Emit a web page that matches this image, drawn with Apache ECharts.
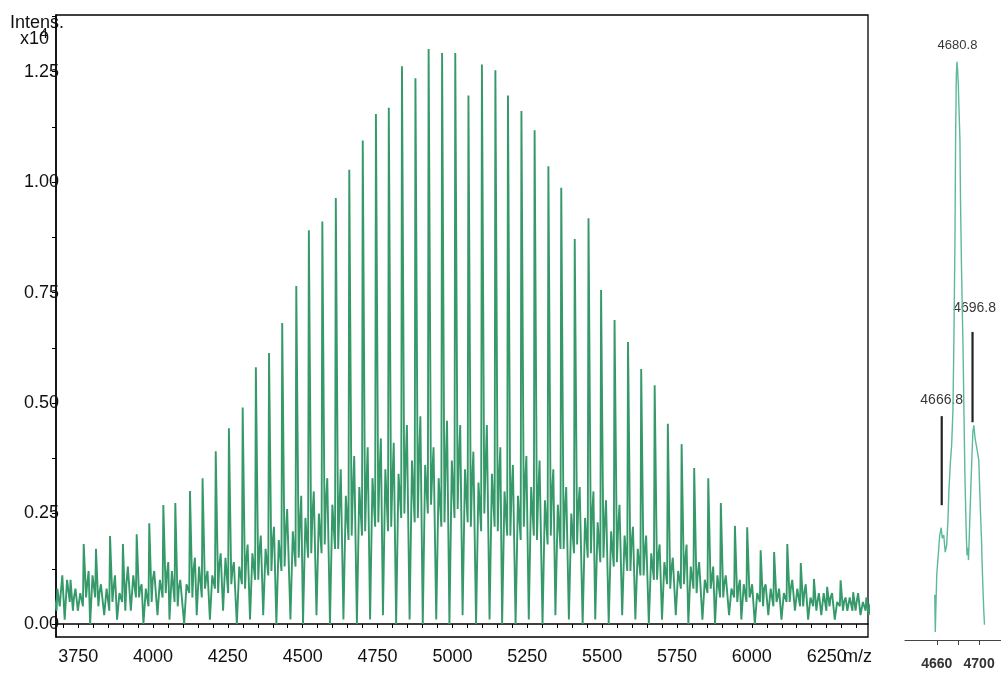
<!DOCTYPE html>
<html><head><meta charset="utf-8">
<script src="https://cdn.jsdelivr.net/npm/echarts@6/dist/echarts.min.js"></script>
<style>html,body{margin:0;padding:0;background:#fff}#c{width:1001px;height:673px}</style>
</head><body><div id="c"></div>
<script>
// ---------- main spectrum: one entry per 44-Da oligomer peak ----------
const mainMz = [3683,3727,3771,3812,3859,3902,3948,3990,4037,4077,4126,4168,4212,4256,4302,4346,4390,4434,4481,4523,4568,4613,4658,4703,4747,4790,4834,4879,4923,4968,5012,5056,5101,5146,5188,5233,5277,5323,5366,5411,5457,5499,5544,5589,5633,5678,5722,5768,5810,5857,5899,5946,5987,6032,6077,6121,6166,6210,6254,6299,6341,6385];
const mainInt = [0.08,0.10,0.181,0.170,0.199,0.181,0.203,0.228,0.269,0.274,0.301,0.330,0.391,0.443,0.490,0.581,0.613,0.681,0.765,0.891,0.911,0.964,1.028,1.094,1.154,1.168,1.262,1.235,1.301,1.292,1.292,1.196,1.266,1.253,1.196,1.161,1.117,1.036,0.987,0.871,0.918,0.756,0.688,0.638,0.577,0.540,0.453,0.407,0.353,0.330,0.274,0.222,0.219,0.167,0.163,0.181,0.138,0.102,0.084,0.099,0.072,0.06];
// valley before each peak
const valleyInt = [0.02,0.01,0.03,0.00,0.02,0.01,0.03,0.00,0.02,0.01,0.00,0.02,0.01,0.03,0.00,0.01,0.02,0.00,0.01,0.00,0.02,0.00,0.01,0.00,0.01,0.02,0.00,0.01,0.00,0.01,0.00,0.02,0.00,0.01,0.00,0.00,0.01,0.00,0.02,0.01,0.00,0.01,0.00,0.02,0.01,0.00,0.01,0.02,0.00,0.01,0.00,0.02,0.01,0.00,0.02,0.01,0.03,0.01,0.02,0.01,0.03,0.02];
// satellite on the low-mass side (-14)
const satLInt = [0.06,0.10,0.07,0.11,0.08,0.07,0.11,0.08,0.10,0.12,0.09,0.13,0.11,0.15,0.13,0.16,0.17,0.19,0.21,0.24,0.25,0.27,0.29,0.31,0.33,0.35,0.34,0.37,0.36,0.33,0.37,0.35,0.32,0.34,0.30,0.29,0.31,0.28,0.27,0.25,0.24,0.23,0.21,0.20,0.17,0.16,0.14,0.12,0.13,0.10,0.11,0.08,0.09,0.07,0.08,0.07,0.08,0.06,0.07,0.05,0.06,0.05];
// dip just before the main peak
const dipLInt = [0.03,0.05,0.04,0.06,0.03,0.05,0.06,0.04,0.06,0.05,0.07,0.06,0.08,0.07,0.09,0.10,0.11,0.12,0.13,0.15,0.16,0.17,0.19,0.20,0.22,0.21,0.24,0.23,0.25,0.22,0.24,0.23,0.21,0.22,0.20,0.19,0.20,0.18,0.17,0.16,0.15,0.14,0.13,0.12,0.11,0.10,0.09,0.08,0.08,0.07,0.06,0.06,0.05,0.05,0.04,0.05,0.04,0.04,0.03,0.04,0.03,0.03];
// dip just after the main peak
const dipRInt = [0.04,0.03,0.06,0.04,0.05,0.03,0.06,0.05,0.07,0.04,0.06,0.08,0.07,0.09,0.08,0.10,0.12,0.13,0.15,0.16,0.18,0.17,0.20,0.21,0.23,0.22,0.25,0.24,0.27,0.23,0.26,0.22,0.25,0.21,0.20,0.22,0.19,0.20,0.17,0.18,0.16,0.15,0.14,0.12,0.11,0.10,0.08,0.09,0.07,0.08,0.06,0.05,0.06,0.04,0.05,0.05,0.04,0.03,0.04,0.03,0.03,0.02];
// small bump between the post-peak dip and the high-mass satellite
const midRInt = [0.07,0.06,0.09,0.07,0.08,0.09,0.08,0.10,0.11,0.08,0.12,0.10,0.13,0.12,0.14,0.16,0.18,0.20,0.22,0.24,0.27,0.25,0.29,0.30,0.33,0.31,0.35,0.36,0.33,0.35,0.36,0.31,0.34,0.32,0.29,0.31,0.28,0.29,0.25,0.26,0.24,0.22,0.21,0.18,0.16,0.15,0.12,0.14,0.11,0.10,0.09,0.08,0.07,0.08,0.06,0.08,0.07,0.05,0.06,0.05,0.05,0.04];
// satellite on the high-mass side (+16)
const satRInt = [0.11,0.08,0.12,0.09,0.11,0.13,0.09,0.12,0.14,0.10,0.15,0.12,0.16,0.14,0.18,0.20,0.22,0.26,0.29,0.30,0.33,0.35,0.38,0.40,0.42,0.41,0.45,0.47,0.40,0.46,0.45,0.39,0.45,0.40,0.36,0.38,0.37,0.35,0.31,0.31,0.30,0.28,0.27,0.22,0.20,0.18,0.15,0.18,0.14,0.13,0.11,0.10,0.09,0.09,0.08,0.10,0.09,0.07,0.07,0.06,0.07,0.05];
const xLabels = [3750,4000,4250,4500,4750,5000,5250,5500,5750,6000,6250];
const yLabels = [0,0.25,0.5,0.75,1.0,1.25];

// ---------- inset (zoom on 4680.8) ----------
const insetMz = [4658.1,4658.6,4660.0,4661.4,4662.8,4664.2,4665.2,4666.6,4668.0,4669.4,4670.6,4671.5,4672.9,4674.1,4675.3,4676.2,4677.2,4677.8,4678.5,4679.1,4679.7,4680.4,4680.9,4681.9,4682.5,4683.5,4684.7,4685.6,4686.6,4687.9,4688.6,4689.4,4690.0,4691.0,4692.6,4694.1,4695.0,4696.2,4697.3,4698.5,4699.7,4701.3,4702.3,4702.9,4703.7,4704.4,4705.1];
const insetInt = [7.4,1.3,10.7,13.9,17.2,18.4,16.7,17.2,14.4,15.6,19.7,24.6,29.2,32.0,37.7,49.2,65.6,82.0,92.6,94.8,93.4,91.0,87.7,82.0,71.3,59.8,49.2,38.5,27.0,17.2,13.9,15.1,13.1,18.5,27.0,34.1,35.2,33.1,32.0,30.8,29.5,21.0,16.4,12.3,8.2,4.9,2.5];
const insetPeakLabels = ['4680.8','4696.8','4666.8'];
const insetLabelPos = [[4679.6,97.4],[4695.7,54.4],[4664.7,39.3]];
const insetBars = [[[4664.7,36.7],[4664.7,22.1]],[[4693.8,50.5],[4693.8,35.7]]];
const insetXLabels = [4660,4700];

// build trace
const trace = [];
for (let k = 0; k < mainMz.length; k++) {
  const m = mainMz[k];
  trace.push([m - 22, valleyInt[k]]);
  trace.push([m - 14, satLInt[k]]);
  trace.push([m - 5, dipLInt[k]]);
  trace.push([m - 2.5, mainInt[k]]);
  trace.push([m + 2, mainInt[k]]);
  trace.push([m + 5.5, dipRInt[k]]);
  trace.push([m + 9, midRInt[k]]);
  trace.push([m + 14, satRInt[k]]);
}

const xTicks = [];
for (let v = 3700; v <= 6350; v += 50) xTicks.push(v);
const yTicks = [];
for (let v = 0; v <= 1.375; v += 0.125) yTicks.push(+v.toFixed(3));

const FONT = "'Liberation Sans', Arial, sans-serif";
const chart = echarts.init(document.getElementById('c'), null, {renderer: 'canvas'});
chart.setOption({
  animation: false,
  backgroundColor: '#fff',
  grid: [
    {left: 56, top: 15, width: 812, height: 622, show: true, borderColor: '#000', borderWidth: 1.3, containLabel: false},
    {left: 905, top: 30, width: 96, height: 610, show: false}
  ],
  xAxis: [
    {type: 'value', gridIndex: 0, min: 3676, max: 6388,
     axisLine: {show: true, lineStyle: {color: '#000', width: 1.5}},
     axisTick: {show: true, length: 4, inside: false, customValues: xTicks, lineStyle: {color: '#000', width: 1}},
     axisLabel: {show: true, customValues: xLabels, fontSize: 18, fontFamily: FONT, color: '#111', margin: 11,
       formatter: v => String(v)},
     splitLine: {show: false}},
    {type: 'value', gridIndex: 1, min: 4630, max: 4720.7,
     axisLine: {show: true, lineStyle: {color: '#444', width: 1.2}},
     axisTick: {show: true, length: 5, customValues: [4660, 4680, 4700], lineStyle: {color: '#444', width: 1}},
     axisLabel: {show: true, customValues: insetXLabels, fontSize: 14, fontWeight: 'bold', fontFamily: FONT, color: '#333', margin: 17,
       formatter: v => String(v)},
     splitLine: {show: false}}
  ],
  yAxis: [
    {type: 'value', gridIndex: 0, min: -0.0294, max: 1.378,
     axisLine: {show: true, lineStyle: {color: '#000', width: 1.5}},
     axisTick: {show: true, length: 4, customValues: yTicks, lineStyle: {color: '#000', width: 1}},
     axisLabel: {show: true, customValues: yLabels, fontSize: 18, fontFamily: FONT, color: '#111', margin: -3,
       formatter: v => v.toFixed(2)},
     splitLine: {show: false}},
    {type: 'value', gridIndex: 1, min: 0, max: 100, show: false}
  ],
  series: [
    {type: 'line', xAxisIndex: 0, yAxisIndex: 0, data: trace, showSymbol: false, symbol: 'none',
     lineStyle: {color: '#36996a', width: 1.9}, sampling: null, clip: true},
    {type: 'line', xAxisIndex: 1, yAxisIndex: 1, data: insetMz.map((m, i) => [m, insetInt[i]]),
     showSymbol: false, symbol: 'none', lineStyle: {color: '#5db99a', width: 1.4}},
    {type: 'line', xAxisIndex: 1, yAxisIndex: 1, data: insetBars[0], showSymbol: false, symbol: 'none',
     lineStyle: {color: '#222', width: 2.2}},
    {type: 'line', xAxisIndex: 1, yAxisIndex: 1, data: insetBars[1], showSymbol: false, symbol: 'none',
     lineStyle: {color: '#222', width: 2.2}},
    {type: 'scatter', xAxisIndex: 1, yAxisIndex: 1, symbolSize: 0, silent: true,
     data: insetLabelPos.map((p, i) => ({value: p, name: insetPeakLabels[i],
       label: {show: true, position: 'inside', formatter: '{b}', color: '#000', fontFamily: FONT,
               fontSize: i === 0 ? 13 : 14}})),
     label: {show: true, position: 'inside', formatter: '{b}', color: '#000', fontFamily: FONT}}
  ],
  graphic: [
    {type: 'text', left: 10, top: 14, style: {text: 'Intens.', font: '18px ' + FONT, fill: '#111'}},
    {type: 'text', left: 20, top: 30, style: {text: 'x10', font: '18px ' + FONT, fill: '#111'}},
    {type: 'text', left: 40, top: 27, style: {text: '4', font: '14px ' + FONT, fill: '#111'}},
    {type: 'text', left: 843, top: 648, style: {text: 'm/z', font: '18px ' + FONT, fill: '#111'}}
  ]
});
</script></body></html>
